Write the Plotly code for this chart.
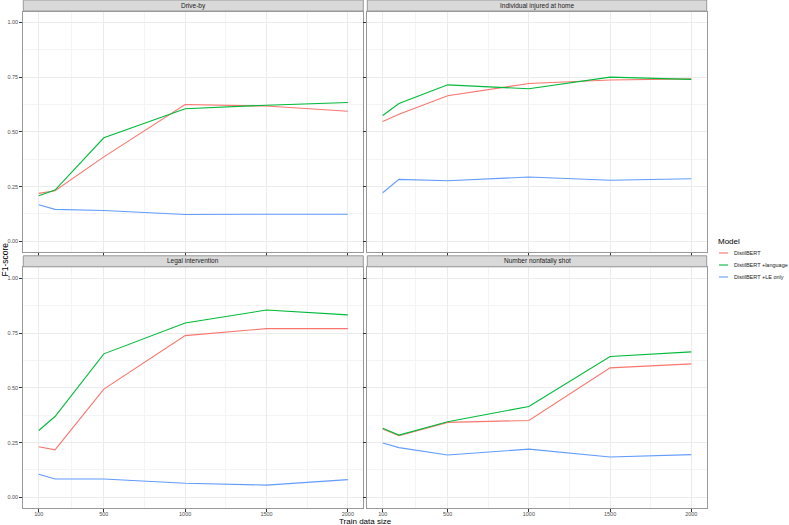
import plotly.graph_objects as go

W, H = 789, 525

train_size = [100, 200, 500, 1000, 1500, 2000]
x_ticks = [100, 500, 1000, 1500, 2000]
y_ticks = [0, 0.25, 0.5, 0.75, 1.0]
y_tick_labels = ["0.00", "0.25", "0.50", "0.75", "1.00"]

models = ["DistilBERT", "DistilBERT +language", "DistilBERT +LE only"]
colors = ["#F8766D", "#00BA38", "#619CFF"]

panels = ["Drive-by", "Individual injured at home", "Legal intervention", "Number nonfatally shot"]

drive_by_base = [0.219, 0.231, 0.386, 0.625, 0.618, 0.594]
drive_by_lang = [0.208, 0.234, 0.473, 0.606, 0.622, 0.634]
drive_by_le = [0.167, 0.146, 0.141, 0.123, 0.124, 0.124]

injured_base = [0.548, 0.581, 0.665, 0.721, 0.737, 0.742]
injured_lang = [0.575, 0.630, 0.715, 0.697, 0.750, 0.740]
injured_le = [0.222, 0.283, 0.277, 0.294, 0.279, 0.286]

legal_base = [0.231, 0.217, 0.494, 0.738, 0.770, 0.770]
legal_lang = [0.305, 0.369, 0.655, 0.796, 0.855, 0.833]
legal_le = [0.105, 0.084, 0.084, 0.064, 0.056, 0.081]

shot_base = [0.312, 0.281, 0.342, 0.351, 0.591, 0.609]
shot_lang = [0.315, 0.284, 0.345, 0.415, 0.643, 0.664]
shot_le = [0.248, 0.227, 0.193, 0.220, 0.184, 0.195]

panel_data = [
    [drive_by_base, drive_by_lang, drive_by_le],
    [injured_base, injured_lang, injured_le],
    [legal_base, legal_lang, legal_le],
    [shot_base, shot_lang, shot_le],
]

# panel boxes in pixels (left, right, top, bottom)
cols_px = [(23.3, 363.3), (367.3, 706.7)]
rows_px = [(11.5, 252.3), (267.3, 508.3)]
strip_h = 11.0


def px_x(v):
    return v / W


def px_y(v):
    return 1 - v / H


fig = go.Figure()
shapes = []
annotations = []

for i, name in enumerate(panels):
    r, c = divmod(i, 2)
    (x0, x1), (y0, y1) = cols_px[c], rows_px[r]
    suffix = "" if i == 0 else str(i + 1)
    xa, ya = "x" + suffix, "y" + suffix

    for j, model in enumerate(models):
        fig.add_trace(
            go.Scatter(
                x=train_size,
                y=panel_data[i][j],
                mode="lines",
                name=model,
                showlegend=False,
                line=dict(color=colors[j], width=1.1),
                xaxis=xa,
                yaxis=ya,
            )
        )

    fig.layout["xaxis" + suffix] = dict(
        domain=[px_x(x0), px_x(x1)],
        anchor=ya,
        range=[5, 2095],
        tickvals=x_ticks,
        ticktext=[str(v) for v in x_ticks],
        showticklabels=(r == 1),
        ticks="outside",
        ticklen=3,
        tickcolor="#333333",
        tickfont=dict(size=5.5, color="#4D4D4D"),
        ticklabelstandoff=-3,
        showgrid=True,
        gridcolor="#EBEBEB",
        gridwidth=1,
        minor=dict(tickvals=[300, 750, 1250, 1750], showgrid=True,
                   gridcolor="#F4F4F4", gridwidth=0.6, ticks=""),
        zeroline=False,
        showline=True,
        linecolor="#999999",
        linewidth=1,
        mirror=True,
    )
    fig.layout["yaxis" + suffix] = dict(
        domain=[px_y(y1), px_y(y0)],
        anchor=xa,
        range=[-0.05, 1.05],
        tickvals=y_ticks,
        ticktext=y_tick_labels,
        showticklabels=(c == 0),
        ticks="outside",
        ticklen=3,
        tickcolor="#333333",
        tickfont=dict(size=5.5, color="#4D4D4D"),
        showgrid=True,
        gridcolor="#EBEBEB",
        gridwidth=1,
        minor=dict(tickvals=[0.125, 0.375, 0.625, 0.875], showgrid=True,
                   gridcolor="#F4F4F4", gridwidth=0.6, ticks=""),
        zeroline=False,
        showline=True,
        linecolor="#999999",
        linewidth=1,
        mirror=True,
    )

    # strip
    shapes.append(dict(
        type="rect", xref="paper", yref="paper",
        x0=px_x(x0), x1=px_x(x1),
        y0=px_y(y0 - 0.5), y1=px_y(y0 - 0.5 - strip_h),
        fillcolor="#D9D9D9",
        line=dict(color="#999999", width=1),
        layer="above",
    ))
    annotations.append(dict(
        text=name, xref="paper", yref="paper",
        x=px_x((x0 + x1) / 2), y=px_y(y0 - 0.5 - strip_h / 2),
        xanchor="center", yanchor="middle", showarrow=False,
        font=dict(size=6.5, color="#1A1A1A"),
    ))

annotations.append(dict(
    text="Train data size", xref="paper", yref="paper",
    x=px_x((23.3 + 706.7) / 2), y=px_y(521),
    xanchor="center", yanchor="middle", showarrow=False,
    font=dict(size=8, color="#000000"),
))
annotations.append(dict(
    text="F1-score", xref="paper", yref="paper",
    x=px_x(4.5), y=px_y(260),
    xanchor="center", yanchor="middle", showarrow=False, textangle=-90,
    font=dict(size=8.5, color="#000000"),
))

# legend drawn by hand (plotly's legend rows are too tall at this size)
annotations.append(dict(
    text="Model", xref="paper", yref="paper",
    x=px_x(716), y=px_y(241),
    xanchor="left", yanchor="middle", showarrow=False,
    font=dict(size=8, color="#000000"),
))
for j, model in enumerate(models):
    ky = 253 + 12 * j
    shapes.append(dict(
        type="line", xref="paper", yref="paper",
        x0=px_x(719), x1=px_x(728), y0=px_y(ky), y1=px_y(ky),
        line=dict(color=colors[j], width=1.1),
    ))
    annotations.append(dict(
        text=model, xref="paper", yref="paper",
        x=px_x(732), y=px_y(ky),
        xanchor="left", yanchor="middle", showarrow=False,
        font=dict(size=5.5, color="#1A1A1A"),
    ))

fig.update_layout(
    width=W,
    height=H,
    margin=dict(l=0, r=0, t=0, b=0, autoexpand=False),
    paper_bgcolor="white",
    plot_bgcolor="white",
    font=dict(family="Liberation Sans, Arial, sans-serif"),
    showlegend=False,
    shapes=shapes,
    annotations=annotations,
)

# drop the browser's default 8px body margin so the figure fills the window
fig.write_html(
    "out.html",
    config={"displayModeBar": False},
    post_script="document.body.style.margin='0px';",
)
